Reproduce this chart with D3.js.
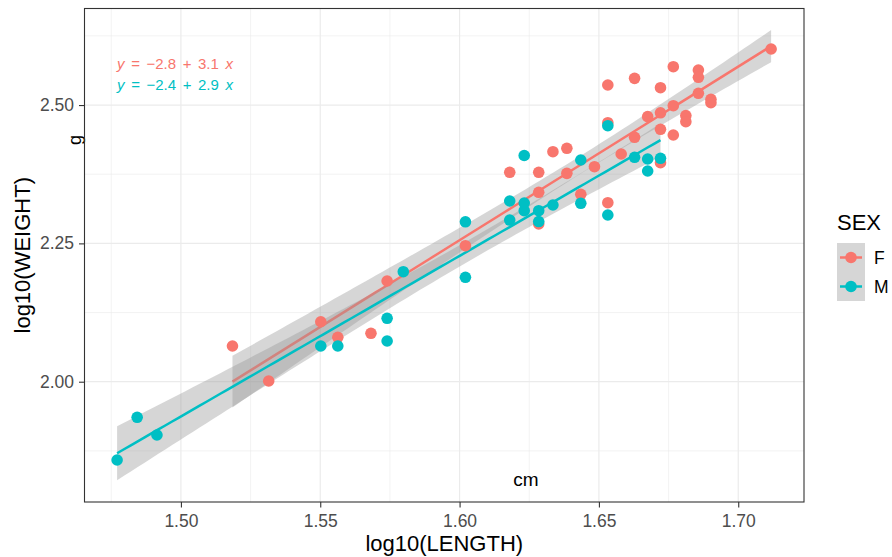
<!DOCTYPE html>
<html>
<head>
<meta charset="utf-8">
<script src="https://cdn.jsdelivr.net/npm/d3@7"></script>
<style>
  html, body { margin: 0; padding: 0; background: #fff; }
  svg { display: block; font-family: "Liberation Sans", Arial, Helvetica, sans-serif; }
</style>
</head>
<body>
<svg id="chart" width="892" height="557"></svg>
<script>
// log10 of body length (cm) and weight (g), by sex
const sexes = ["F", "M"];
const colors = ["#F8766D", "#00BFC4"];

const logLengthF = [1.5185, 1.5315, 1.5502, 1.5563, 1.5682, 1.5740, 1.6021, 1.6180, 1.6284, 1.6284,
                    1.6284, 1.6335, 1.6385, 1.6385, 1.6435, 1.6484, 1.6532, 1.6532, 1.6532, 1.6580,
                    1.6628, 1.6628, 1.6675, 1.6721, 1.6721, 1.6721, 1.6721, 1.6767, 1.6767, 1.6767,
                    1.6812, 1.6812, 1.6857, 1.6857, 1.6857, 1.6902, 1.6902, 1.7118];
const logWeightF = [2.0645, 2.0013, 2.1084, 2.0802, 2.0875, 2.1820, 2.2458, 2.3785, 2.3785, 2.3423,
                    2.2850, 2.4157, 2.4218, 2.3766, 2.3387, 2.3886, 2.5362, 2.4681, 2.3235, 2.4115,
                    2.5483, 2.4417, 2.4790, 2.5314, 2.4860, 2.4562, 2.3958, 2.5693, 2.4988, 2.4459,
                    2.4811, 2.4699, 2.5633, 2.5502, 2.5212, 2.5104, 2.5042, 2.6013];

const logLengthM = [1.4771, 1.4843, 1.4914, 1.5502, 1.5563, 1.5740, 1.5740, 1.5798, 1.6021, 1.6021,
                    1.6180, 1.6180, 1.6232, 1.6232, 1.6232, 1.6284, 1.6284, 1.6335, 1.6435, 1.6435,
                    1.6532, 1.6532, 1.6628, 1.6675, 1.6675, 1.6721];
const logWeightM = [1.8585, 1.9357, 1.9037, 2.0645, 2.0645, 2.1146, 2.0736, 2.1988, 2.2890, 2.1887,
                    2.3266, 2.2922, 2.4088, 2.3230, 2.3091, 2.3091, 2.2895, 2.3194, 2.4007, 2.3224,
                    2.4627, 2.3013, 2.4056, 2.4025, 2.3808, 2.4038];

// fitted-equation labels, one per sex
const eqIntercepts = ["\u22122.8", "\u22122.4"];
const eqSlopes = ["3.1", "2.9"];

const xTicks = [1.50, 1.55, 1.60, 1.65, 1.70];
const yTicks = [2.00, 2.25, 2.50];
const xMinor = [1.475, 1.525, 1.575, 1.625, 1.675];
const yMinor = [1.875, 2.125, 2.375, 2.625];

const xDomain = [1.4654, 1.7236];
const yDomain = [1.7826, 2.6745];

const unitLabels = { x: "cm", y: "g" };
const unitPos = { x: [1.6238, 1.823], y: [1.4643, 2.437] };

// ---- layout ----
const panel = { left: 84.5, right: 804, top: 8.5, bottom: 502 };

const svg = d3.select("#chart");
const x = d3.scaleLinear().domain(xDomain).range([panel.left, panel.right]);
const y = d3.scaleLinear().domain(yDomain).range([panel.bottom, panel.top]);

// ---- grid ----
const grid = svg.append("g");
grid.selectAll(".xmin").data(xMinor).join("line")
  .attr("x1", d => x(d)).attr("x2", d => x(d))
  .attr("y1", panel.top).attr("y2", panel.bottom)
  .attr("stroke", "#EBEBEB").attr("stroke-width", 0.6);
grid.selectAll(".ymin").data(yMinor).join("line")
  .attr("y1", d => y(d)).attr("y2", d => y(d))
  .attr("x1", panel.left).attr("x2", panel.right)
  .attr("stroke", "#EBEBEB").attr("stroke-width", 0.6);
grid.selectAll(".xmaj").data(xTicks).join("line")
  .attr("x1", d => x(d)).attr("x2", d => x(d))
  .attr("y1", panel.top).attr("y2", panel.bottom)
  .attr("stroke", "#EBEBEB").attr("stroke-width", 1.2);
grid.selectAll(".ymaj").data(yTicks).join("line")
  .attr("y1", d => y(d)).attr("y2", d => y(d))
  .attr("x1", panel.left).attr("x2", panel.right)
  .attr("stroke", "#EBEBEB").attr("stroke-width", 1.2);

// ---- linear fit with 95% confidence band ----
function tQuantile975(df) {
  const z = 1.959964;
  const z3 = z * z * z, z5 = z3 * z * z, z7 = z5 * z * z;
  return z + (z3 + z) / (4 * df) + (5 * z5 + 16 * z3 + 3 * z) / (96 * df * df)
    + (3 * z7 + 19 * z5 + 17 * z3 - 15 * z) / (384 * df * df * df);
}

function linearFit(xs, ys) {
  const n = xs.length;
  const mx = d3.mean(xs), my = d3.mean(ys);
  let sxx = 0, sxy = 0;
  for (let i = 0; i < n; i++) { sxx += (xs[i] - mx) ** 2; sxy += (xs[i] - mx) * (ys[i] - my); }
  const b = sxy / sxx, a = my - b * mx;
  let rss = 0;
  for (let i = 0; i < n; i++) rss += (ys[i] - a - b * xs[i]) ** 2;
  const s = Math.sqrt(rss / (n - 2));
  const t = tQuantile975(n - 2);
  const [lo, hi] = d3.extent(xs);
  const pts = d3.range(80).map(i => {
    const xv = lo + (hi - lo) * i / 79;
    const fitv = a + b * xv;
    const se = s * Math.sqrt(1 / n + (xv - mx) ** 2 / sxx);
    return { x: xv, fit: fitv, lo: fitv - t * se, hi: fitv + t * se };
  });
  return { a, b, pts };
}

const groups = [
  { sex: sexes[0], xs: logLengthF, ys: logWeightF, color: colors[0] },
  { sex: sexes[1], xs: logLengthM, ys: logWeightM, color: colors[1] }
];

const area = d3.area().x(d => x(d.x)).y0(d => y(d.lo)).y1(d => y(d.hi));
const line = d3.line().x(d => x(d.x)).y(d => y(d.fit));

const smooth = svg.append("g");
groups.forEach(g => {
  const f = linearFit(g.xs, g.ys);
  smooth.append("path").datum(f.pts).attr("d", area)
    .attr("fill", "#999999").attr("fill-opacity", 0.4);
  smooth.append("path").datum(f.pts).attr("d", line)
    .attr("fill", "none").attr("stroke", g.color).attr("stroke-width", 2.5);
});

// ---- points ----
const pts = svg.append("g");
groups.forEach(g => {
  pts.selectAll(null).data(d3.zip(g.xs, g.ys)).join("circle")
    .attr("cx", d => x(d[0])).attr("cy", d => y(d[1])).attr("r", 5.8)
    .attr("fill", g.color);
});

// ---- equation labels ----
const eqY = [64, 85];
groups.forEach((g, i) => {
  const t = svg.append("text")
    .attr("x", x(d3.min(logLengthM)))
    .attr("y", eqY[i]).attr("dy", "0.35em")
    .attr("fill", g.color).attr("font-size", 15)
    .attr("word-spacing", 2.4);
  t.append("tspan").attr("font-style", "italic").text("y");
  t.append("tspan").text(" = " + eqIntercepts[i] + " + " + eqSlopes[i] + " ");
  t.append("tspan").attr("font-style", "italic").text("x");
});

// ---- unit annotations ----
svg.append("text")
  .attr("x", x(unitPos.x[0])).attr("y", y(unitPos.x[1])).attr("dy", "0.35em")
  .attr("text-anchor", "middle").attr("font-size", 19).attr("fill", "#000")
  .text(unitLabels.x);
svg.append("text")
  .attr("transform", `translate(${x(unitPos.y[0])},${y(unitPos.y[1])}) rotate(-90)`)
  .attr("text-anchor", "middle").attr("font-size", 18).attr("fill", "#000")
  .text(unitLabels.y);

// ---- panel border ----
svg.append("rect")
  .attr("x", panel.left).attr("y", panel.top)
  .attr("width", panel.right - panel.left).attr("height", panel.bottom - panel.top)
  .attr("fill", "none").attr("stroke", "#333333").attr("stroke-width", 1.1);

// ---- axes ----
const fmt = d3.format(".2f");
const xAxis = svg.append("g").attr("transform", `translate(0,${panel.bottom})`)
  .call(d3.axisBottom(x).tickValues(xTicks).tickFormat(fmt).tickSize(5.5).tickPadding(7.5));
const yAxis = svg.append("g").attr("transform", `translate(${panel.left},0)`)
  .call(d3.axisLeft(y).tickValues(yTicks).tickFormat(fmt).tickSize(5.5).tickPadding(5));
[xAxis, yAxis].forEach(a => {
  a.select(".domain").remove();
  a.selectAll(".tick line").attr("stroke", "#333333").attr("stroke-width", 1.1);
  a.selectAll(".tick text").attr("fill", "#4D4D4D").attr("font-size", 17.5)
    .attr("font-family", "Liberation Sans, Arial, sans-serif");
});

svg.append("text")
  .attr("x", (panel.left + panel.right) / 2).attr("y", 551)
  .attr("text-anchor", "middle").attr("font-size", 22).attr("fill", "#000")
  .text("log10(LENGTH)");
svg.append("text")
  .attr("transform", `translate(29.5,${(panel.top + panel.bottom) / 2}) rotate(-90)`)
  .attr("text-anchor", "middle").attr("font-size", 22).attr("fill", "#000")
  .text("log10(WEIGHT)");

// ---- legend ----
const legend = svg.append("g").attr("transform", "translate(837,0)");
legend.append("text").attr("x", 0).attr("y", 230)
  .attr("font-size", 22).attr("fill", "#000").text("SEX");
const keySize = 29;
groups.forEach((g, i) => {
  const top = 243 + i * keySize;
  const cy = top + keySize / 2;
  legend.append("rect").attr("x", 0).attr("y", top)
    .attr("width", 28).attr("height", keySize)
    .attr("fill", "#999999").attr("fill-opacity", 0.4);
  legend.append("line").attr("x1", 3).attr("x2", 25).attr("y1", cy).attr("y2", cy)
    .attr("stroke", g.color).attr("stroke-width", 2.5);
  legend.append("circle").attr("cx", 14).attr("cy", cy).attr("r", 5.8).attr("fill", g.color);
  legend.append("text").attr("x", 37).attr("y", cy).attr("dy", "0.36em")
    .attr("font-size", 17.5).attr("fill", "#000").text(g.sex);
});
</script>
</body>
</html>
